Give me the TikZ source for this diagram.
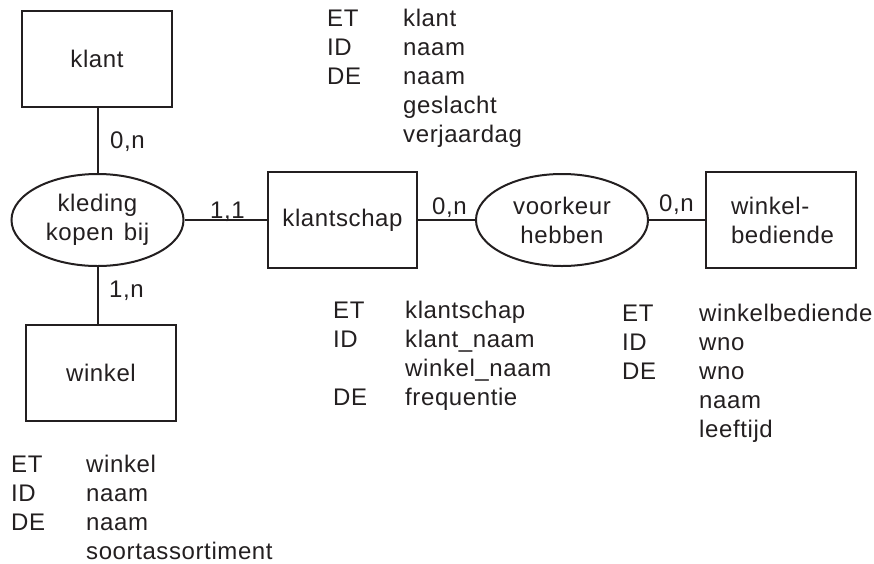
\documentclass[tikz,border=0pt]{standalone}
\usepackage{fontspec}
\setmainfont{Liberation Sans}[LetterSpace=2.5]
\usetikzlibrary{shapes.geometric}
\definecolor{ink}{HTML}{231F20}
\newcommand{\attrlist}[1]{\begin{tabular}[t]{@{}l@{}}#1\end{tabular}}
\begin{document}
\begin{tikzpicture}[x=1pt,y=-1pt,
  every node/.style={text=ink, font=\fontsize{24}{29}\selectfont},
  entity/.style={draw=ink, line width=2pt, minimum width=150pt,
    minimum height=96pt, inner sep=0pt},
  relation/.style={draw=ink, line width=2pt, ellipse, minimum width=172pt,
    minimum height=92pt, inner sep=0pt, align=center},
  link/.style={draw=ink, line width=2pt},
  card/.style={anchor=base west, inner sep=0pt},
  attr/.style={anchor=base west, inner sep=0pt}]
\useasboundingbox (0,0) rectangle (874,563);

% entity types
\node[entity] (klant) at (97,58.5) {klant};
\node[entity, minimum width=149pt] (klantschap) at (342.5,220) {klantschap};
\node[entity, align=left, text width=100pt] (bediende) at (781,220) {winkel-\\bediende};
\node[entity] (winkel) at (101,373) {winkel};

% relationship types
\node[relation] (kleding) at (97.5,220) {kleding\\kopen\hspace{3pt} bij};
\node[relation] (voorkeur) at (562,220) {voorkeur\\hebben};

% connections
\draw[link] (kleding.north) -- (kleding.north |- klant.south);
\draw[link] (kleding.south) -- (kleding.south |- winkel.north);
\draw[link] (kleding) -- (klantschap);
\draw[link] (klantschap) -- (voorkeur);
\draw[link] (voorkeur) -- (bediende);

% cardinalities
\node[card] (cKlant) at (110,148) {0,n};
\node[card] (cSchapL) at (210,218) {1,1};
\node[card] (cSchapR) at (432,214) {0,n};
\node[card] (cBediende) at (659,211) {0,n};
\node[card] (cWinkel) at (109,297) {1,n};

% attribute lists
\node[attr] (klantKeys) at (327,26) {\attrlist{ET\\ID\\DE}};
\node[attr] (klantVals) at (403,26) {\attrlist{klant\\naam\\naam\\geslacht\\verjaardag}};

\node[attr] (schapKeys) at (333,318) {\attrlist{ET\\ID\\\\DE}};
\node[attr] (schapVals) at (405,318) {\attrlist{klantschap\\klant\_naam\\winkel\_naam\\frequentie}};

\node[attr] (bediendeKeys) at (622,321) {\attrlist{ET\\ID\\DE}};
\node[attr] (bediendeVals) at (699,321) {\attrlist{winkelbediende\\wno\\wno\\naam\\leeftijd}};

\node[attr] (winkelKeys) at (11,472) {\attrlist{ET\\ID\\DE}};
\node[attr] (winkelVals) at (86,472) {\attrlist{winkel\\naam\\naam\\soortassortiment}};
\end{tikzpicture}
\end{document}
